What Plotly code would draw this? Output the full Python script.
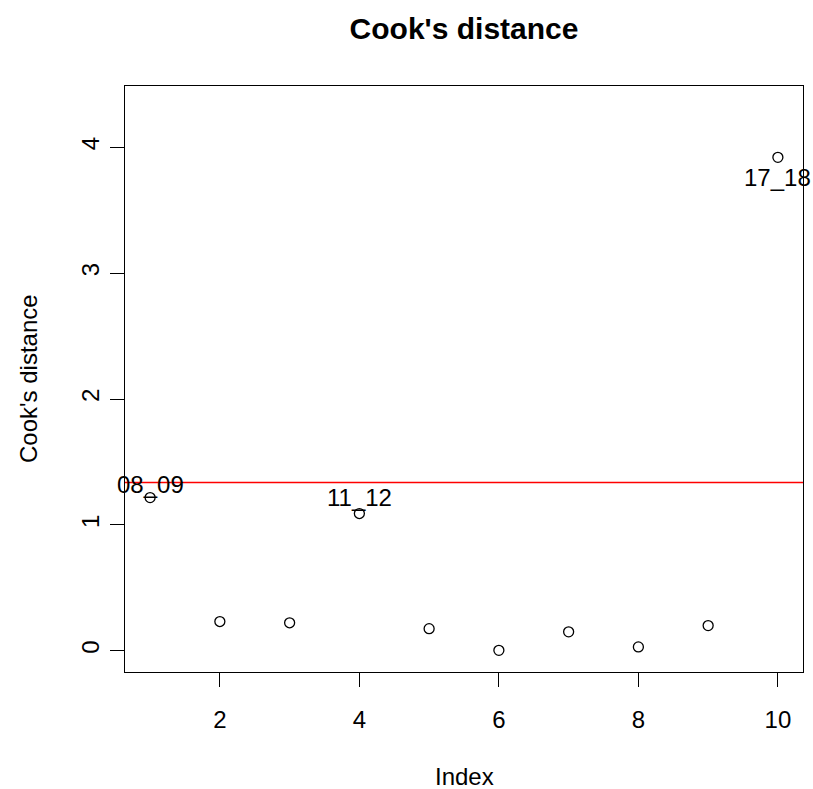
import plotly.graph_objects as go

index = [1, 2, 3, 4, 5, 6, 7, 8, 9, 10]
cooks = [1.217, 0.232, 0.222, 1.09, 0.175, 0.003, 0.15, 0.03, 0.2, 3.92]
cutoff = 1.336
label_idx = [1, 4, 10]
label_txt = ["08_09", "11_12", "17_18"]
label_shift = [13, 16, -20]
x_ticks = [2, 4, 6, 8, 10]
y_ticks = [0, 1, 2, 3, 4]

FONT = "Liberation Sans, Arial, sans-serif"

fig = go.Figure()
fig.add_trace(go.Scatter(
    x=index, y=cooks, mode="markers",
    marker=dict(symbol="circle-open", size=10, color="black", line=dict(width=1.3, color="black")),
    showlegend=False, hoverinfo="skip"))

fig.add_shape(type="line", xref="paper", yref="y", x0=0, x1=1, y0=cutoff, y1=cutoff,
              line=dict(color="red", width=1.5))

for i, t, s in zip(label_idx, label_txt, label_shift):
    fig.add_annotation(x=i, y=cooks[i - 1], text=t, showarrow=False, yshift=s,
                       font=dict(family=FONT, size=24, color="black"))

# axis titles
fig.add_annotation(xref="paper", yref="paper", x=0.5, y=-0.179, text="Index",
                   showarrow=False, xanchor="center", yanchor="middle",
                   font=dict(family=FONT, size=24, color="black"))
fig.add_annotation(xref="paper", yref="paper", x=-0.143, y=0.5, text="Cook's distance",
                   showarrow=False, xanchor="center", yanchor="middle", textangle=-90,
                   font=dict(family=FONT, size=24, color="black"))

fig.update_layout(
    width=813, height=789,
    margin=dict(l=125, r=10, t=86, b=117),
    paper_bgcolor="white", plot_bgcolor="white",
    title=dict(text="<b>Cook's distance</b>", xref="paper", x=0.5, xanchor="center",
               y=0.9645, yanchor="middle",
               font=dict(family=FONT, size=30, color="black")),
    font=dict(family=FONT, size=24, color="black"),
)
fig.update_xaxes(range=[0.64, 10.36], tickvals=x_ticks, ticks="outside", ticklen=14,
                 tickcolor="black", showline=True, linecolor="black", linewidth=1, mirror=True,
                 showgrid=False, zeroline=False, ticklabelstandoff=12, automargin=False,
                 tickfont=dict(size=24))
fig.update_yaxes(range=[-0.169, 4.487], tickvals=y_ticks, ticks="outside", ticklen=14,
                 tickcolor="black", showline=True, linecolor="black", linewidth=1, mirror=True,
                 showgrid=False, zeroline=False, tickangle=-90, ticklabelstandoff=1,
                 automargin=False, tickfont=dict(size=24))

fig.write_html("out.html")
